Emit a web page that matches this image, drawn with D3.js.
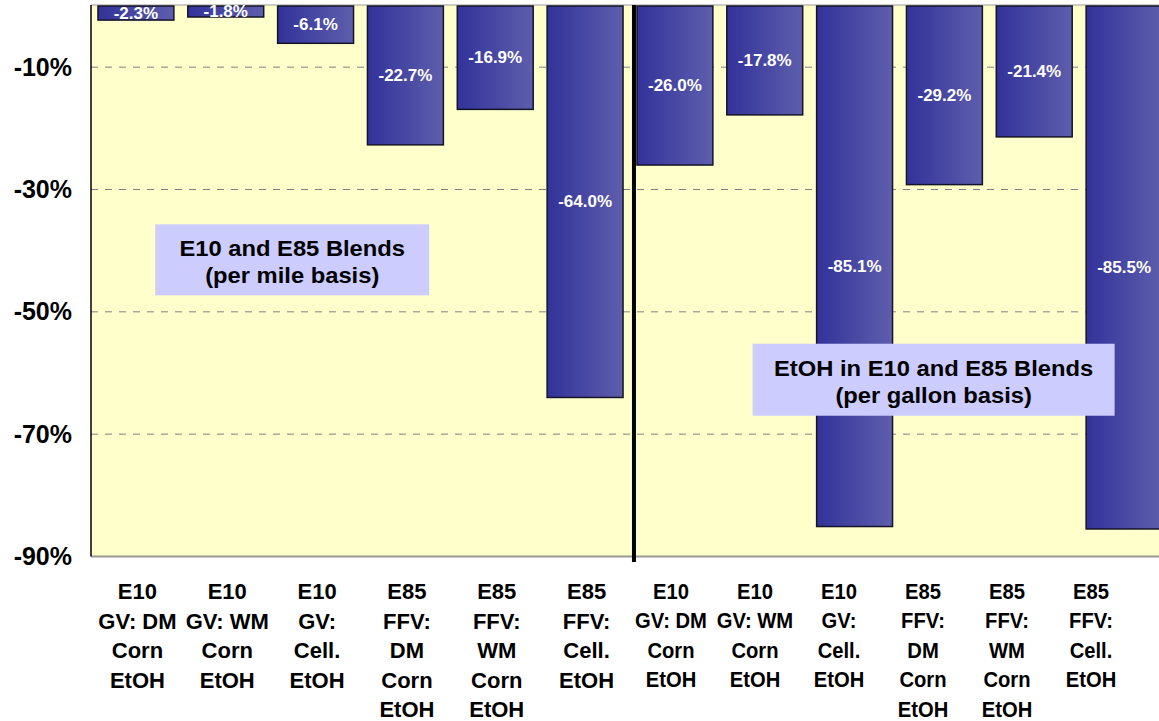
<!DOCTYPE html>
<html>
<head>
<meta charset="utf-8">
<script src="https://cdn.jsdelivr.net/npm/d3@7"></script>
<style>
  html, body { margin: 0; padding: 0; background: #ffffff; }
  svg { display: block; font-family: "Liberation Sans", Arial, sans-serif; font-weight: bold; }
</style>
</head>
<body>
<svg id="chart" width="1159" height="721"></svg>
<script>
// ---- data ----
const categories = [
  "E10 GV: DM Corn EtOH (mile)", "E10 GV: WM Corn EtOH (mile)", "E10 GV: Cell. EtOH (mile)",
  "E85 FFV: DM Corn EtOH (mile)", "E85 FFV: WM Corn EtOH (mile)", "E85 FFV: Cell. EtOH (mile)",
  "E10 GV: DM Corn EtOH (gal)", "E10 GV: WM Corn EtOH (gal)", "E10 GV: Cell. EtOH (gal)",
  "E85 FFV: DM Corn EtOH (gal)", "E85 FFV: WM Corn EtOH (gal)", "E85 FFV: Cell. EtOH (gal)"
];
const categoryLines = [
  ["E10", "GV: DM", "Corn", "EtOH"],
  ["E10", "GV: WM", "Corn", "EtOH"],
  ["E10", "GV:", "Cell.", "EtOH"],
  ["E85", "FFV:", "DM", "Corn", "EtOH"],
  ["E85", "FFV:", "WM", "Corn", "EtOH"],
  ["E85", "FFV:", "Cell.", "EtOH"],
  ["E10", "GV: DM", "Corn", "EtOH"],
  ["E10", "GV: WM", "Corn", "EtOH"],
  ["E10", "GV:", "Cell.", "EtOH"],
  ["E85", "FFV:", "DM", "Corn", "EtOH"],
  ["E85", "FFV:", "WM", "Corn", "EtOH"],
  ["E85", "FFV:", "Cell.", "EtOH"]
];
const values = [-2.3, -1.8, -6.1, -22.7, -16.9, -64.0, -26.0, -17.8, -85.1, -29.2, -21.4, -85.5];
const yTicks = [-10, -30, -50, -70, -90];
const gridTicks = [-10, -30, -50, -70];
const yDomain = [-90, 0];
const annotations = [
  { lines: ["E10 and E85 Blends", "(per mile basis)"], bandPos: 2.24, value: -41.5, w: 274, h: 71 },
  { lines: ["EtOH in E10 and E85 Blends", "(per gallon basis)"], bandPos: 9.38, value: -61.1, w: 362, h: 72 }
];

// ---- layout ----
const svg = d3.select("#chart");
const W = 1159;
const plotLeft = 91, plotTop = 5, plotBottom = 556.5, plotRightFull = 1169;

const x = d3.scaleBand().domain(categories).range([plotLeft, plotRightFull])
  .paddingInner(0.155).paddingOuter(0.0775);
const y = d3.scaleLinear().domain(yDomain).range([plotBottom, 6]);

// label scales (right half labels are set more tightly in the original)
const xLabLeft = d3.scaleBand().domain(categories.slice(0, 6)).range([plotLeft, plotLeft + 6 * x.step()]);
const xLabRight = d3.scaleBand().domain(categories.slice(6)).range([629, 1133]);

const defs = svg.append("defs");
const grad = defs.append("linearGradient").attr("id", "barGrad")
  .attr("x1", "0%").attr("x2", "100%").attr("y1", "0%").attr("y2", "0%");
grad.append("stop").attr("offset", "0%").attr("stop-color", "#32329a");
grad.append("stop").attr("offset", "100%").attr("stop-color", "#5e5ead");
defs.append("clipPath").attr("id", "plotClip").append("rect")
  .attr("x", plotLeft).attr("y", plotTop).attr("width", W - plotLeft).attr("height", plotBottom - plotTop);

// plot background
svg.append("rect").attr("x", plotLeft).attr("y", plotTop)
  .attr("width", W - plotLeft).attr("height", plotBottom - plotTop).attr("fill", "#ffffcc");

// grid
svg.append("g").selectAll("line").data(gridTicks).join("line")
  .attr("x1", plotLeft).attr("x2", W)
  .attr("y1", d => y(d)).attr("y2", d => y(d))
  .attr("stroke", "#808080").attr("stroke-width", 1).attr("stroke-dasharray", "7,7");

// top border
svg.append("line").attr("x1", plotLeft).attr("x2", W).attr("y1", plotTop).attr("y2", plotTop)
  .attr("stroke", "#9a9a9a").attr("stroke-width", 1);

// bars
const plot = svg.append("g").attr("clip-path", "url(#plotClip)");
plot.selectAll("rect.bar").data(values).join("rect").attr("class", "bar")
  .attr("x", (d, i) => x(categories[i]))
  .attr("width", x.bandwidth())
  .attr("y", d => y(0))
  .attr("height", d => y(d) - y(0))
  .attr("fill", "url(#barGrad)")
  .attr("stroke", "#141428").attr("stroke-width", 1.5);

// value labels
plot.selectAll("text.val").data(values).join("text").attr("class", "val")
  .attr("x", (d, i) => x(categories[i]) + x.bandwidth() / 2)
  .attr("y", d => (y(0) + y(d)) / 2)
  .attr("text-anchor", "middle").attr("dominant-baseline", "central")
  .attr("fill", "#ffffff").attr("font-size", 17)
  .text(d => d.toFixed(1) + "%");

// bottom axis line
svg.append("line").attr("x1", plotLeft).attr("x2", W).attr("y1", plotBottom).attr("y2", plotBottom)
  .attr("stroke", "#999999").attr("stroke-width", 2);

// left axis
const yAxis = d3.axisLeft(y).tickValues(yTicks).tickSize(0).tickPadding(19)
  .tickFormat(d => d + "%");
const gy = svg.append("g").attr("transform", `translate(${plotLeft},0)`).call(yAxis);
gy.select(".domain").attr("stroke", "#000").attr("stroke-width", 1.5)
  .attr("d", `M0,${plotTop}V${plotBottom}`);
gy.selectAll("text").attr("font-size", 25).attr("fill", "#000")
  .attr("font-family", "'Liberation Sans', Arial, sans-serif").attr("font-weight", "bold");

// separator line
const sepX = x(categories[6]) - 3;
svg.append("line").attr("x1", sepX).attr("x2", sepX).attr("y1", plotTop).attr("y2", 562)
  .attr("stroke", "#000").attr("stroke-width", 4);

// category labels
const labG = svg.append("g");
categoryLines.forEach((lines, i) => {
  const cat = categories[i];
  const right = i >= 6;
  const cx = right ? xLabRight(cat) + xLabRight.bandwidth() / 2 : xLabLeft(cat) + xLabLeft.bandwidth() / 2 + 1.5;
  const t = labG.append("text")
    .attr("transform", `translate(${cx},599) scale(${right ? 0.92 : 1},1)`)
    .attr("text-anchor", "middle").attr("font-size", 22).attr("fill", "#000");
  lines.forEach((ln, j) => {
    t.append("tspan").attr("x", 0).attr("y", j * 29.5).text(ln);
  });
});

// annotation boxes
annotations.forEach(a => {
  const cx = x.range()[0] + a.bandPos * x.step();
  const cy = y(a.value);
  svg.append("rect").attr("x", cx - a.w / 2).attr("y", cy - a.h / 2)
    .attr("width", a.w).attr("height", a.h).attr("fill", "#ccccff");
  const t = svg.append("text")
    .attr("transform", `translate(${cx},${cy}) scale(1.08,1)`)
    .attr("text-anchor", "middle").attr("font-size", 22).attr("fill", "#000");
  a.lines.forEach((ln, j) => {
    t.append("tspan").attr("x", 0).attr("y", (j === 0 ? -4 : 23)).text(ln);
  });
});
</script>
</body>
</html>
